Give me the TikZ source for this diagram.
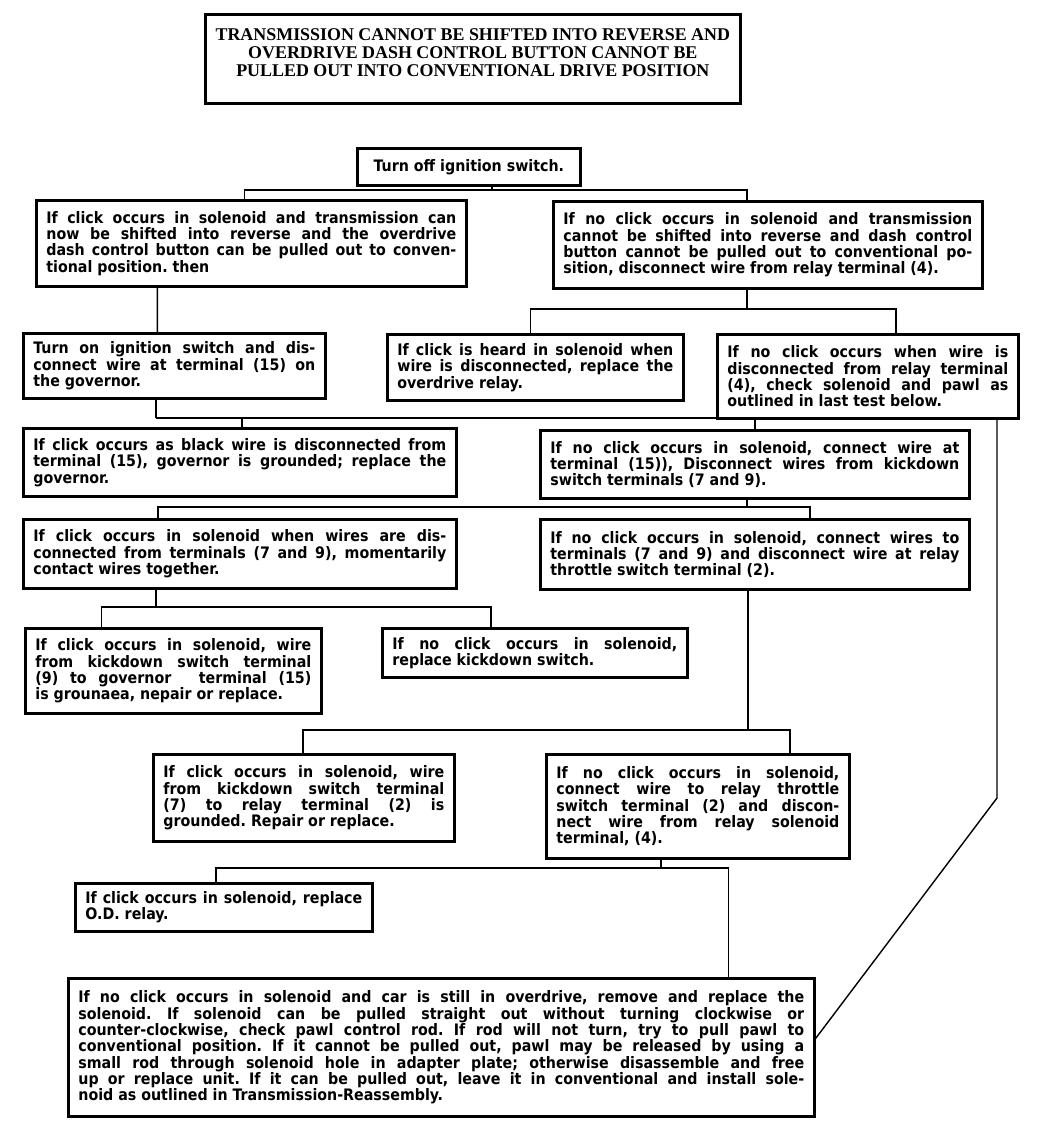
\documentclass[tikz,border=0pt]{standalone}
\usepackage{fontspec}
\usepackage{tikz}
\usetikzlibrary{calc,positioning}
\newfontfamily\boxfont{DejaVu Sans Condensed}
\newfontfamily\headfamily{Liberation Serif}
\newcommand\flowfont{\boxfont\bfseries\fontsize{9}{9.3}\selectfont}
\newcommand\headfont{\headfamily\bfseries\fontsize{10.2}{10.4}\selectfont}
\tolerance=9999
\frenchspacing
\tikzset{
  box/.style={draw,line width=1.6pt,inner xsep=0.2cm,inner ysep=2pt,anchor=north west,font=\flowfont},
  para/.style={box,align=justify,text width=#1},
  link/.style={line width=0.8pt}
}

\begin{document}
\begin{tikzpicture}[x=0.02cm,y=-0.02cm]
\useasboundingbox (0,0) rectangle (1052,1133);
% heading
\node[draw,line width=1.6pt,anchor=north west,minimum width=10.7cm,minimum height=1.78cm] (titlebox) at (204,13) {};
\node[font=\headfont,align=center] (titletext) at ([shift={(0,-6)}]titlebox.center)
  {TRANSMISSION CANNOT BE SHIFTED INTO REVERSE AND\\OVERDRIVE DASH CONTROL BUTTON CANNOT BE\\PULLED OUT INTO CONVENTIONAL DRIVE POSITION};
% first test
\node[box,minimum width=4.46cm,minimum height=0.74cm] (t0) at (356,147) {Turn off ignition switch.};
\node[para=8.2cm,minimum height=1.72cm] (click1) at (35,199)
  {If click occurs in solenoid and transmission can\linebreak now be shifted into reverse and the overdrive\linebreak dash control button can be pulled out to conven-\linebreak tional position. then};
\node[para=8.18cm,minimum height=1.74cm] (noclick1) at (552,200)
  {If no click occurs in solenoid and transmission\linebreak cannot be shifted into reverse and dash control\linebreak button cannot be pulled out to conventional po-\linebreak sition, disconnect wire from relay terminal (4).};
% second row
\node[para=5.64cm,minimum height=1.3cm] (ignon) at (22,332)
  {Turn on ignition switch and dis-\linebreak connect wire at terminal (15) on\linebreak the governor.};
\node[para=5.52cm,minimum height=1.32cm] (relay) at (386,333)
  {If click is heard in solenoid when\linebreak wire is disconnected, replace the\linebreak overdrive relay.};
\node[para=5.62cm,minimum height=1.68cm] (checksol) at (716,333)
  {If no click occurs when wire is\linebreak disconnected from relay terminal\linebreak (4), check solenoid and pawl as\linebreak outlined in last test below.};
% governor
\node[para=8.26cm,minimum height=1.36cm] (govgnd) at (22,427)
  {If click occurs as black wire is disconnected from\linebreak terminal (15), governor is grounded; replace the\linebreak governor.};
\node[para=8.18cm,minimum height=1.36cm] (kickwires) at (539,429)
  {If no click occurs in solenoid, connect wire at\linebreak terminal (15)), Disconnect wires from kickdown\linebreak switch terminals (7 and 9).};
% kickdown switch
\node[para=8.26cm,minimum height=1.38cm] (contact) at (22,518)
  {If click occurs in solenoid when wires are dis-\linebreak connected from terminals (7 and 9), momentarily\linebreak contact wires together.};
\node[para=8.18cm,minimum height=1.4cm] (throttle) at (539,518)
  {If no click occurs in solenoid, connect wires to\linebreak terminals (7 and 9) and disconnect wire at relay\linebreak throttle switch terminal (2).};
\node[para=5.52cm,minimum height=1.7cm] (kickgnd) at (24,627)
  {If click occurs in solenoid, wire\linebreak from kickdown switch terminal\linebreak (9) to governor \quad terminal (15)\linebreak is grounaea, nepair or replace.};
\node[para=5.7cm,minimum height=0.98cm] (kickrep) at (381,627)
  {If no click occurs in solenoid,\linebreak replace kickdown switch.};
% throttle switch
\node[para=5.62cm,minimum height=1.74cm] (relaygnd) at (152,753)
  {If click occurs in solenoid, wire\linebreak from kickdown switch terminal\linebreak (7) to relay terminal (2) is\linebreak grounded. Repair or replace.};
\node[para=5.66cm,minimum height=2.08cm] (solterm) at (545,753)
  {If no click occurs in solenoid,\linebreak connect wire to relay throttle\linebreak switch terminal (2) and discon-\linebreak nect wire from relay solenoid\linebreak terminal, (4).};
\node[para=5.54cm,minimum height=0.96cm] (odrelay) at (74,882)
  {If click occurs in solenoid, replace\linebreak O.D. relay.};
\node[para=14.52cm,minimum height=2.76cm] (lasttest) at (67,977)
  {If no click occurs in solenoid and car is still in overdrive, remove and replace the\linebreak solenoid. If solenoid can be pulled straight out without turning clockwise or\linebreak counter-clockwise, check pawl control rod. If rod will not turn, try to pull pawl to\linebreak conventional position. If it cannot be pulled out, pawl may be released by using a\linebreak small rod through solenoid hole in adapter plate; otherwise disassemble and free\linebreak up or replace unit. If it can be pulled out, leave it in conventional and install sole-\linebreak noid as outlined in Transmission-Reassembly.};
% junctions
\coordinate (j1) at (492,190);
\coordinate (j2) at (747,309);
\coordinate (j3) at (156,418);
\coordinate (j4) at (747,507);
\coordinate (j5) at (156,607);
\coordinate (j6) at (748,730);
\coordinate (j7) at (661,868);
\coordinate (bend) at (997,798);
% connectors
\draw[link] (t0.south -| j1) -- (j1);
\draw[link] ([shift={(-7,0)}]click1.north) |- (j1) -| ([shift={(-21,0)}]noclick1.north);
\draw[link] (noclick1.south -| j2) -- (j2);
\draw[link] ([shift={(-5,0)}]relay.north) |- (j2) -| ([shift={(28,0)}]checksol.north);
\draw[link] ([shift={(-94,0)}]click1.south) -- ([shift={(-17,0)}]ignon.north);
\draw[link] (ignon.south -| j3) -- (j3);
\draw[link] ([shift={(2,0)}]govgnd.north) |- (j3) -| (kickwires.north);
\draw[link] (kickwires.south -| j4) -- (j4);
\draw[link] ([shift={(-82,0)}]contact.north) |- (j4) -| ([shift={(55,0)}]throttle.north);
\draw[link] (contact.south -| j5) -- (j5);
\draw[link] ([shift={(-72,0)}]kickgnd.north) |- (j5) -| ([shift={(-44,0)}]kickrep.north);
\draw[link] (throttle.south -| j6) -- (j6);
\draw[link] ([shift={(-1,0)}]relaygnd.north) |- (j6) -| ([shift={(92,0)}]solterm.north);
\draw[link] (solterm.south -| j7) -- (j7);
\draw[link] ([shift={(-8,0)}]odrelay.north) |- (j7) -| ([shift={(287,0)}]lasttest.north);
\draw[link] (checksol.south -| bend) -- (bend) -- ([shift={(0,-9)}]lasttest.east);
\end{tikzpicture}
\end{document}
